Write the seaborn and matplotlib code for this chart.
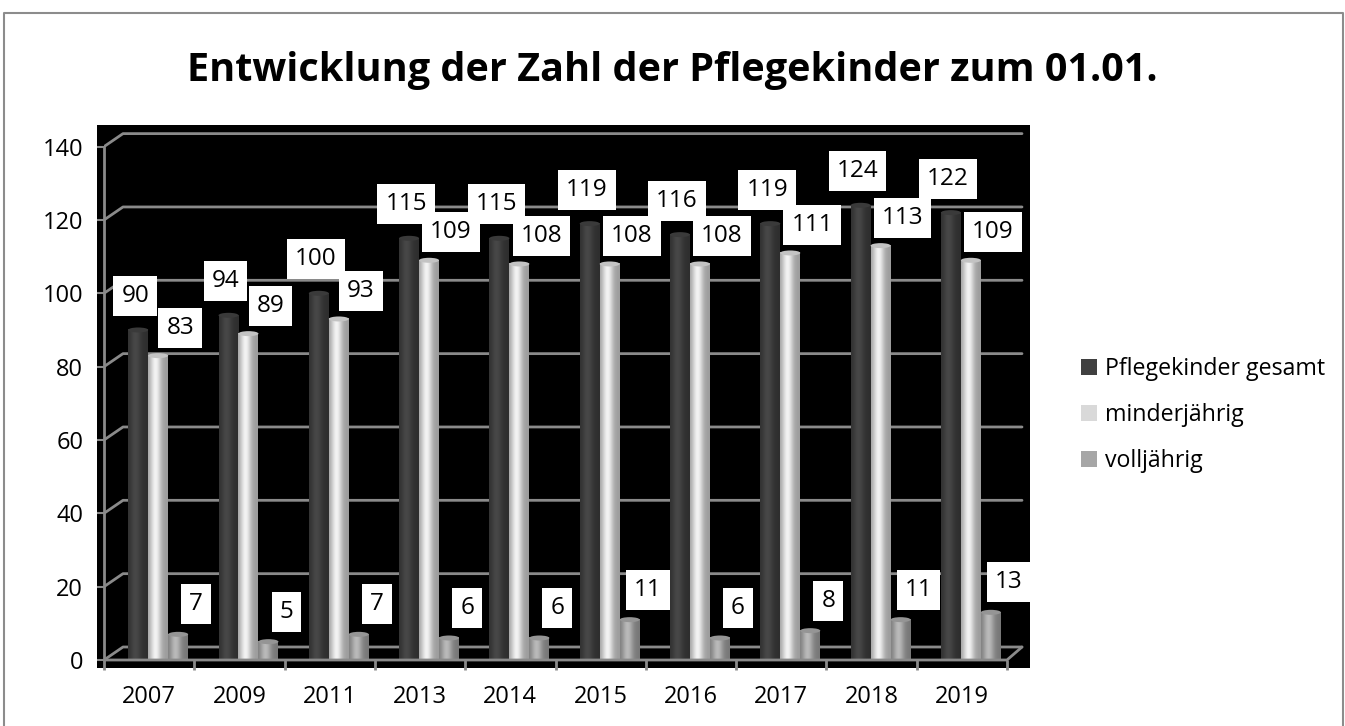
import numpy as np
import pandas as pd
import matplotlib
matplotlib.use("Agg")
from matplotlib import pyplot as plt
from matplotlib.colors import to_rgb
from matplotlib.lines import Line2D
from matplotlib.patches import Ellipse, Rectangle
import seaborn as sns

years = ["2007", "2009", "2011", "2013", "2014", "2015", "2016", "2017", "2018", "2019"]
gesamt = [90, 94, 100, 115, 115, 119, 116, 119, 124, 122]
minderjaehrig = [83, 89, 93, 109, 108, 108, 108, 111, 113, 109]
volljaehrig = [7, 5, 7, 6, 6, 11, 6, 8, 11, 13]
series_names = ["Pflegekinder gesamt", "minderjährig", "volljährig"]
y_ticks = [0, 20, 40, 60, 80, 100, 120, 140]

colors = ["#404040", "#d9d9d9", "#a6a6a6"]
grid_c = "#8a8a8a"

W, H, DPI = 1345, 726, 100
x_unit = 90.3   # px per category
y_unit = 3.667  # px per count


def fx(px):
    return px / W


def fy(px):
    return 1 - px / H


df = pd.DataFrame({
    "Jahr": years * 3,
    "Anzahl": gesamt + minderjaehrig + volljaehrig,
    "Gruppe": np.repeat(series_names, len(years)),
})

sns.set_style("white")
plt.rcParams["font.family"] = ["Open Sans", "DejaVu Sans"]
plt.rcParams["text.color"] = "black"

fig = plt.figure(figsize=(W / DPI, H / DPI), dpi=DPI)
fig.add_artist(Rectangle((fx(97), fy(668)), fx(1030) - fx(97), fy(125) - fy(668),
                         transform=fig.transFigure, facecolor="black", edgecolor="none", zorder=-1))
ax = fig.add_axes([fx(104), fy(668), fx(1030) - fx(104), fy(125) - fy(668)])
ax.set_facecolor("black")

sns.barplot(df, x="Jahr", y="Anzahl", hue="Gruppe", palette=colors, saturation=1,
            width=0.664, gap=0, linewidth=0, ax=ax, zorder=3)

# cylinder look
t = np.linspace(0, 1, 80)
shade = 0.72 + 0.40 * np.exp(-((t - 0.38) / 0.28) ** 2)
offsets = [(-3, 34), (22, 28), (18, 30)]  # label offset in px
for container, color, (ox, oy) in zip(ax.containers, colors, offsets):
    rgb = np.array(to_rgb(color))
    img = np.clip(rgb[None, None, :] * shade[None, :, None], 0, 1)
    for bar in container:
        bar.set_x(bar.get_x() + 0.1)
        x0, w, h = bar.get_x(), bar.get_width(), bar.get_height()
        ax.imshow(img, extent=[x0, x0 + w, 0, h], aspect="auto", zorder=3.1,
                  interpolation="bilinear")
        ax.add_patch(Ellipse((x0 + w / 2, h), w, 5 / y_unit,
                             facecolor=np.clip(rgb * 0.9, 0, 1), edgecolor="none", zorder=3.2))
        ax.annotate(f"{h:.0f}", xy=(x0 + w / 2, h), xytext=(ox * 0.72, oy * 0.72),
                    textcoords="offset points", ha="center", va="center", fontsize=17.5,
                    color="black", zorder=5, annotation_clip=False,
                    bbox=dict(boxstyle="square,pad=0.33", fc="white", ec="none"))

# back wall gridlines with a bit of depth
dxl = 19 / x_unit
dy = 13 / y_unit
gx1 = -0.5 + (1022 - 104) / x_unit
for v in y_ticks:
    ax.plot([-0.5, -0.5 + dxl, gx1], [v, v + dy, v + dy], color=grid_c, lw=2, zorder=1)
ax.plot([-0.5, -0.5], [0, y_ticks[-1]], color=grid_c, lw=2, zorder=1, clip_on=False)
ax.plot([-0.5, len(years) - 0.5, gx1], [0, 0, dy], color=grid_c, lw=2, zorder=4)
ax.vlines(np.arange(len(years) + 1) - 0.5, -10 / y_unit, 0, color=grid_c, lw=2,
          zorder=4, clip_on=False)

ax.set_xlim(-0.5, -0.5 + (1030 - 104) / x_unit)
ax.set_ylim(-(668 - 660) / y_unit, (660 - 125) / y_unit)
ax.set_yticks(y_ticks)
ax.tick_params(axis="y", length=5, width=1.5, color=grid_c, pad=10, labelsize=17,
               labelcolor="black", left=True)
ax.tick_params(axis="x", length=0, pad=12, labelsize=17, labelcolor="black")
for s in ax.spines.values():
    s.set_visible(False)
ax.set_xlabel("")
ax.set_ylabel("")

sns.move_legend(ax, "center left", bbox_to_anchor=(fx(1081), fy(415)),
                bbox_transform=fig.transFigure, title=None, frameon=False, fontsize=16.7,
                handlelength=0.7, handleheight=0.7, handletextpad=0.35,
                labelspacing=0.95, borderpad=0, borderaxespad=0, labelcolor="black")

fig.text(0.5, fy(70), "Entwicklung der Zahl der Pflegekinder zum 01.01.", ha="center",
         va="center", fontsize=28.5, fontweight="bold", color="black")
fig.add_artist(Line2D([fx(4), fx(4), fx(1343), fx(1343)], [0, fy(13), fy(13), 0],
                      transform=fig.transFigure, color="#8c8c8c", lw=1.5))

fig.savefig("out.png", dpi=DPI)
